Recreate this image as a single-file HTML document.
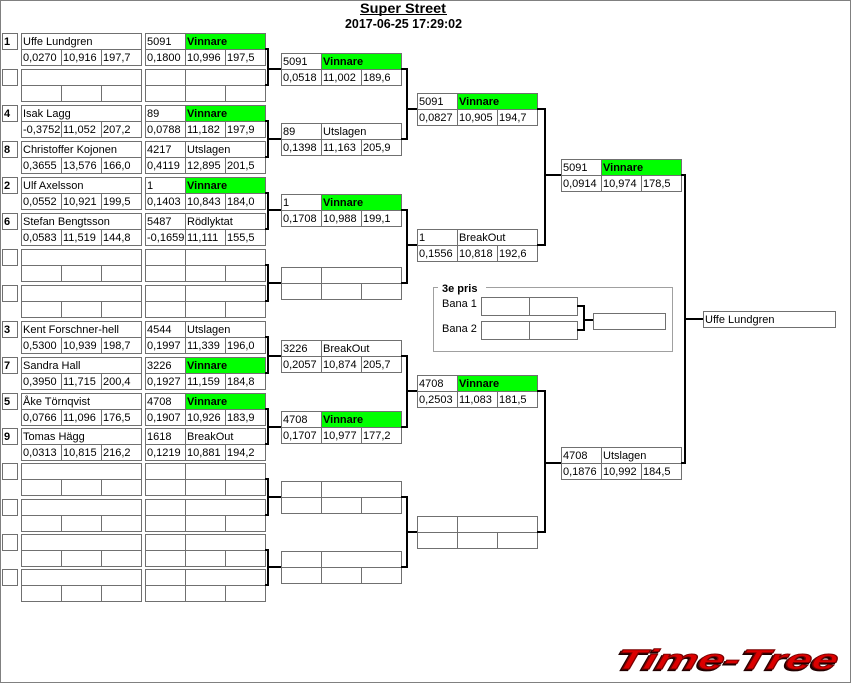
<!DOCTYPE html>
<html><head><meta charset="utf-8">
<style>
html,body{margin:0;padding:0;background:#fff;}
svg{display:block}
svg text{font-family:"Liberation Sans",sans-serif;font-size:11px;fill:#000}
svg text.b{font-weight:bold}
</style></head>
<body>
<svg width="854" height="684" viewBox="0 0 854 684" xmlns="http://www.w3.org/2000/svg">
<defs>
<g id="mb" fill="none" stroke="#707070"><rect x=".5" y=".5" width="120" height="32"/><path d="M0 16.5H121M40.5 0V33M80.5 16V33"/></g>
<g id="en" fill="none" stroke="#707070"><rect x="2.5" y=".5" width="15" height="16"/><rect x="21.5" y=".5" width="120" height="32"/><path d="M21 16.5H142M61.5 16V33M101.5 16V33"/></g>
</defs>
<rect x="0" y="0" width="854" height="684" fill="#fff"/>
<rect x=".5" y=".5" width="850" height="682" fill="none" stroke="#808080"/>

<!-- Title -->
<text class="b" x="360" y="13" style="font-size:14px" textLength="86" lengthAdjust="spacingAndGlyphs">Super Street</text>
<path d="M360 14.5H447" stroke="#000"/>
<text class="b" x="345" y="28" style="font-size:13px" textLength="117" lengthAdjust="spacingAndGlyphs">2017-06-25 17:29:02</text>

<!-- Round 1 -->
<g transform="translate(0,33)"><use href="#en"/>
<text class="b" x="4" y="12">1</text><text x="23" y="12">Uffe Lundgren</text>
<text y="28"><tspan x="23">0,0270</tspan><tspan x="63">10,916</tspan><tspan x="103">197,7</tspan></text>
<g transform="translate(145,0)"><rect x="41" y="1" width="79" height="15" fill="#0f0"/><use href="#mb"/>
<text x="2" y="12">5091</text><text class="b" x="42" y="12">Vinnare</text>
<text y="28"><tspan x="2">0,1800</tspan><tspan x="42">10,996</tspan><tspan x="82">197,5</tspan></text></g></g>

<g transform="translate(0,69)"><use href="#en"/><use href="#mb" x="145"/></g>

<g transform="translate(0,105)"><use href="#en"/>
<text class="b" x="4" y="12">4</text><text x="23" y="12">Isak Lagg</text>
<text y="28"><tspan x="23">-0,3752</tspan><tspan x="63">11,052</tspan><tspan x="103">207,2</tspan></text>
<g transform="translate(145,0)"><rect x="41" y="1" width="79" height="15" fill="#0f0"/><use href="#mb"/>
<text x="2" y="12">89</text><text class="b" x="42" y="12">Vinnare</text>
<text y="28"><tspan x="2">0,0788</tspan><tspan x="42">11,182</tspan><tspan x="82">197,9</tspan></text></g></g>

<g transform="translate(0,141)"><use href="#en"/>
<text class="b" x="4" y="12">8</text><text x="23" y="12">Christoffer Kojonen</text>
<text y="28"><tspan x="23">0,3655</tspan><tspan x="63">13,576</tspan><tspan x="103">166,0</tspan></text>
<g transform="translate(145,0)"><use href="#mb"/>
<text x="2" y="12">4217</text><text x="42" y="12">Utslagen</text>
<text y="28"><tspan x="2">0,4119</tspan><tspan x="42">12,895</tspan><tspan x="82">201,5</tspan></text></g></g>

<g transform="translate(0,177)"><use href="#en"/>
<text class="b" x="4" y="12">2</text><text x="23" y="12">Ulf Axelsson</text>
<text y="28"><tspan x="23">0,0552</tspan><tspan x="63">10,921</tspan><tspan x="103">199,5</tspan></text>
<g transform="translate(145,0)"><rect x="41" y="1" width="79" height="15" fill="#0f0"/><use href="#mb"/>
<text x="2" y="12">1</text><text class="b" x="42" y="12">Vinnare</text>
<text y="28"><tspan x="2">0,1403</tspan><tspan x="42">10,843</tspan><tspan x="82">184,0</tspan></text></g></g>

<g transform="translate(0,213)"><use href="#en"/>
<text class="b" x="4" y="12">6</text><text x="23" y="12">Stefan Bengtsson</text>
<text y="28"><tspan x="23">0,0583</tspan><tspan x="63">11,519</tspan><tspan x="103">144,8</tspan></text>
<g transform="translate(145,0)"><use href="#mb"/>
<text x="2" y="12">5487</text><text x="42" y="12">Rödlyktat</text>
<text y="28"><tspan x="2">-0,1659</tspan><tspan x="42">11,111</tspan><tspan x="82">155,5</tspan></text></g></g>

<g transform="translate(0,249)"><use href="#en"/><use href="#mb" x="145"/></g>
<g transform="translate(0,285)"><use href="#en"/><use href="#mb" x="145"/></g>

<g transform="translate(0,321)"><use href="#en"/>
<text class="b" x="4" y="12">3</text><text x="23" y="12">Kent Forschner-hell</text>
<text y="28"><tspan x="23">0,5300</tspan><tspan x="63">10,939</tspan><tspan x="103">198,7</tspan></text>
<g transform="translate(145,0)"><use href="#mb"/>
<text x="2" y="12">4544</text><text x="42" y="12">Utslagen</text>
<text y="28"><tspan x="2">0,1997</tspan><tspan x="42">11,339</tspan><tspan x="82">196,0</tspan></text></g></g>

<g transform="translate(0,357)"><use href="#en"/>
<text class="b" x="4" y="12">7</text><text x="23" y="12">Sandra Hall</text>
<text y="28"><tspan x="23">0,3950</tspan><tspan x="63">11,715</tspan><tspan x="103">200,4</tspan></text>
<g transform="translate(145,0)"><rect x="41" y="1" width="79" height="15" fill="#0f0"/><use href="#mb"/>
<text x="2" y="12">3226</text><text class="b" x="42" y="12">Vinnare</text>
<text y="28"><tspan x="2">0,1927</tspan><tspan x="42">11,159</tspan><tspan x="82">184,8</tspan></text></g></g>

<g transform="translate(0,393)"><use href="#en"/>
<text class="b" x="4" y="12">5</text><text x="23" y="12">Åke Törnqvist</text>
<text y="28"><tspan x="23">0,0766</tspan><tspan x="63">11,096</tspan><tspan x="103">176,5</tspan></text>
<g transform="translate(145,0)"><rect x="41" y="1" width="79" height="15" fill="#0f0"/><use href="#mb"/>
<text x="2" y="12">4708</text><text class="b" x="42" y="12">Vinnare</text>
<text y="28"><tspan x="2">0,1907</tspan><tspan x="42">10,926</tspan><tspan x="82">183,9</tspan></text></g></g>

<g transform="translate(0,428)"><use href="#en"/>
<text class="b" x="4" y="12">9</text><text x="23" y="12">Tomas Hägg</text>
<text y="28"><tspan x="23">0,0313</tspan><tspan x="63">10,815</tspan><tspan x="103">216,2</tspan></text>
<g transform="translate(145,0)"><use href="#mb"/>
<text x="2" y="12">1618</text><text x="42" y="12">BreakOut</text>
<text y="28"><tspan x="2">0,1219</tspan><tspan x="42">10,881</tspan><tspan x="82">194,2</tspan></text></g></g>

<g transform="translate(0,463)"><use href="#en"/><use href="#mb" x="145"/></g>
<g transform="translate(0,499)"><use href="#en"/><use href="#mb" x="145"/></g>
<g transform="translate(0,534)"><use href="#en"/><use href="#mb" x="145"/></g>
<g transform="translate(0,569)"><use href="#en"/><use href="#mb" x="145"/></g>

<!-- Round 2 -->
<g transform="translate(281,53)"><rect x="41" y="1" width="79" height="15" fill="#0f0"/><use href="#mb"/>
<text x="2" y="12">5091</text><text class="b" x="42" y="12">Vinnare</text>
<text y="28"><tspan x="2">0,0518</tspan><tspan x="42">11,002</tspan><tspan x="82">189,6</tspan></text></g>
<g transform="translate(281,123)"><use href="#mb"/>
<text x="2" y="12">89</text><text x="42" y="12">Utslagen</text>
<text y="28"><tspan x="2">0,1398</tspan><tspan x="42">11,163</tspan><tspan x="82">205,9</tspan></text></g>
<g transform="translate(281,194)"><rect x="41" y="1" width="79" height="15" fill="#0f0"/><use href="#mb"/>
<text x="2" y="12">1</text><text class="b" x="42" y="12">Vinnare</text>
<text y="28"><tspan x="2">0,1708</tspan><tspan x="42">10,988</tspan><tspan x="82">199,1</tspan></text></g>
<g transform="translate(281,267)"><use href="#mb"/></g>
<g transform="translate(281,340)"><use href="#mb"/>
<text x="2" y="12">3226</text><text x="42" y="12">BreakOut</text>
<text y="28"><tspan x="2">0,2057</tspan><tspan x="42">10,874</tspan><tspan x="82">205,7</tspan></text></g>
<g transform="translate(281,411)"><rect x="41" y="1" width="79" height="15" fill="#0f0"/><use href="#mb"/>
<text x="2" y="12">4708</text><text class="b" x="42" y="12">Vinnare</text>
<text y="28"><tspan x="2">0,1707</tspan><tspan x="42">10,977</tspan><tspan x="82">177,2</tspan></text></g>
<g transform="translate(281,481)"><use href="#mb"/></g>
<g transform="translate(281,551)"><use href="#mb"/></g>

<!-- Round 3 -->
<g transform="translate(417,93)"><rect x="41" y="1" width="79" height="15" fill="#0f0"/><use href="#mb"/>
<text x="2" y="12">5091</text><text class="b" x="42" y="12">Vinnare</text>
<text y="28"><tspan x="2">0,0827</tspan><tspan x="42">10,905</tspan><tspan x="82">194,7</tspan></text></g>
<g transform="translate(417,229)"><use href="#mb"/>
<text x="2" y="12">1</text><text x="42" y="12">BreakOut</text>
<text y="28"><tspan x="2">0,1556</tspan><tspan x="42">10,818</tspan><tspan x="82">192,6</tspan></text></g>
<g transform="translate(417,375)"><rect x="41" y="1" width="79" height="15" fill="#0f0"/><use href="#mb"/>
<text x="2" y="12">4708</text><text class="b" x="42" y="12">Vinnare</text>
<text y="28"><tspan x="2">0,2503</tspan><tspan x="42">11,083</tspan><tspan x="82">181,5</tspan></text></g>
<g transform="translate(417,516)"><use href="#mb"/></g>

<!-- Round 4 -->
<g transform="translate(561,159)"><rect x="41" y="1" width="79" height="15" fill="#0f0"/><use href="#mb"/>
<text x="2" y="12">5091</text><text class="b" x="42" y="12">Vinnare</text>
<text y="28"><tspan x="2">0,0914</tspan><tspan x="42">10,974</tspan><tspan x="82">178,5</tspan></text></g>
<g transform="translate(561,447)"><use href="#mb"/>
<text x="2" y="12">4708</text><text x="42" y="12">Utslagen</text>
<text y="28"><tspan x="2">0,1876</tspan><tspan x="42">10,992</tspan><tspan x="82">184,5</tspan></text></g>

<!-- Final -->
<rect x="703.5" y="311.5" width="132" height="16" fill="none" stroke="#707070"/>
<text x="705" y="323">Uffe Lundgren</text>

<!-- Connectors -->
<path fill="none" stroke="#000" stroke-width="2" d="
M265 49H268V85H265M268 69H281
M265 121H268V157H265M268 139H281
M265 193H268V229H265M268 210H281
M265 265H268V301H265M268 283H281
M265 337H268V373H265M268 356H281
M265 409H268V444H265M268 427H281
M265 479H268V515H265M268 497H281
M265 550H268V585H265M268 567H281
M401 69H407V139H401M407 109H417
M401 210H407V283H401M407 245H417
M401 356H407V427H401M407 391H417
M401 497H407V567H401M407 532H417
M537 109H545V245H537M545 175H561
M537 391H545V532H537M545 463H561
M681 175H685V463H681M685 319H703"/>

<!-- 3e pris -->
<rect x="433.5" y="287.5" width="239" height="64" fill="none" stroke="#a0a0a0"/>
<rect x="438" y="282" width="48" height="11" fill="#fff"/>
<text class="b" x="442" y="292">3e pris</text>
<text x="442" y="307">Bana 1</text>
<text x="442" y="332">Bana 2</text>
<g fill="none" stroke="#707070">
<rect x="481.5" y="297.5" width="96" height="18"/><path d="M529.5 297V316"/>
<rect x="481.5" y="321.5" width="96" height="18"/><path d="M529.5 321V340"/>
<rect x="593.5" y="313.5" width="72" height="16"/>
</g>
<path fill="none" stroke="#000" stroke-width="2" d="M577 306H584V330H577M584 320H593"/>

<!-- Logo -->
<g transform="translate(614,669) skewX(-14)">
<text x="-1.5" y="1.5" style="font-size:28px;font-weight:bold;font-style:italic;fill:#200" stroke="#200" stroke-width="1.2" textLength="222" lengthAdjust="spacingAndGlyphs">Time-Tree</text>
<text x="0" y="0" style="font-size:28px;font-weight:bold;font-style:italic;fill:#dc0000" stroke="#7a0000" stroke-width="0.9" textLength="222" lengthAdjust="spacingAndGlyphs">Time-Tree</text>
</g>
</svg>
</body></html>
